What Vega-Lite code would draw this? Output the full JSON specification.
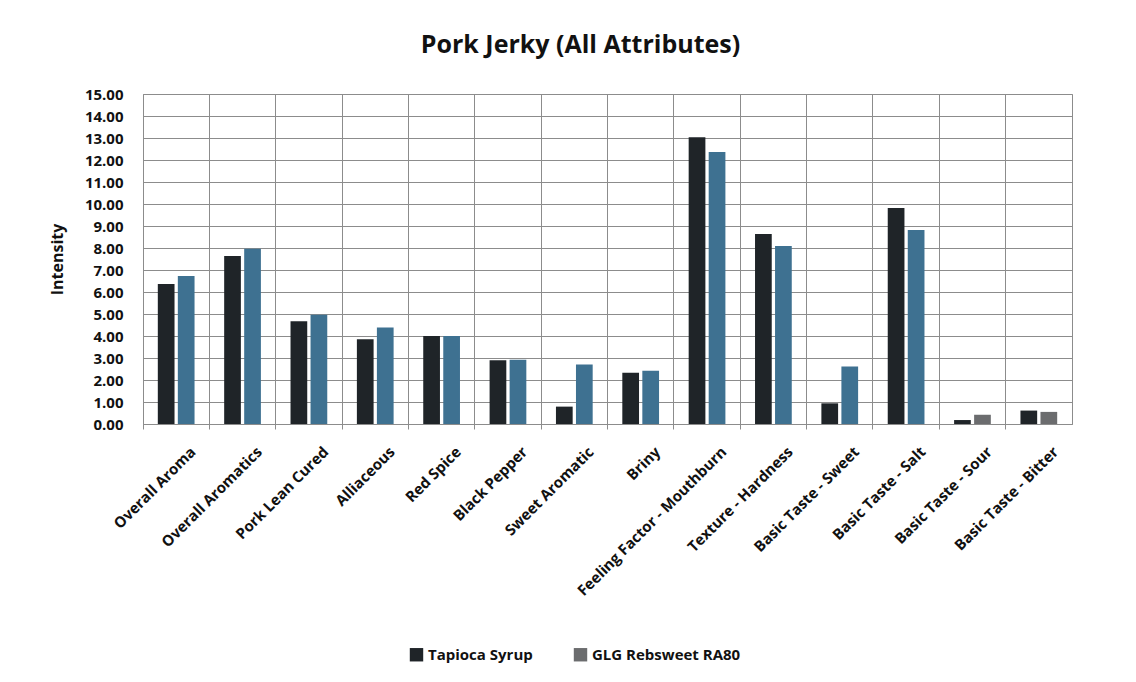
{
  "$schema": "https://vega.github.io/schema/vega-lite/v6.json",
  "autosize": "none",
  "width": 929,
  "height": 330,
  "padding": {"left": 143, "top": 94, "right": 64, "bottom": 258},
  "background": "#ffffff",
  "config": {
    "font": "Open Sans",
    "view": {"stroke": "#8c8c8c", "strokeWidth": 1}
  },
  "title": {
    "text": "Pork Jerky (All Attributes)",
    "font": "Open Sans",
    "fontSize": 25,
    "fontWeight": "bold",
    "color": "#111111",
    "anchor": "middle",
    "dx": -27,
    "offset": 29
  },
  "data": {
    "values": [
      {"attribute": "Overall Aroma", "series": "Tapioca Syrup", "value": 6.36},
      {"attribute": "Overall Aroma", "series": "GLG Rebsweet RA80", "value": 6.73},
      {"attribute": "Overall Aromatics", "series": "Tapioca Syrup", "value": 7.64},
      {"attribute": "Overall Aromatics", "series": "GLG Rebsweet RA80", "value": 7.97},
      {"attribute": "Pork  Lean Cured", "series": "Tapioca Syrup", "value": 4.67},
      {"attribute": "Pork  Lean Cured", "series": "GLG Rebsweet RA80", "value": 4.97},
      {"attribute": "Alliaceous", "series": "Tapioca Syrup", "value": 3.85},
      {"attribute": "Alliaceous", "series": "GLG Rebsweet RA80", "value": 4.39},
      {"attribute": "Red Spice", "series": "Tapioca Syrup", "value": 4.0},
      {"attribute": "Red Spice", "series": "GLG Rebsweet RA80", "value": 4.0},
      {"attribute": "Black Pepper", "series": "Tapioca Syrup", "value": 2.9},
      {"attribute": "Black Pepper", "series": "GLG Rebsweet RA80", "value": 2.92},
      {"attribute": "Sweet Aromatic", "series": "Tapioca Syrup", "value": 0.79},
      {"attribute": "Sweet Aromatic", "series": "GLG Rebsweet RA80", "value": 2.7},
      {"attribute": "Briny", "series": "Tapioca Syrup", "value": 2.33},
      {"attribute": "Briny", "series": "GLG Rebsweet RA80", "value": 2.42},
      {"attribute": "Feeling Factor - Mouthburn", "series": "Tapioca Syrup", "value": 13.03},
      {"attribute": "Feeling Factor - Mouthburn", "series": "GLG Rebsweet RA80", "value": 12.36},
      {"attribute": "Texture - Hardness", "series": "Tapioca Syrup", "value": 8.64},
      {"attribute": "Texture - Hardness", "series": "GLG Rebsweet RA80", "value": 8.09},
      {"attribute": "Basic Taste - Sweet", "series": "Tapioca Syrup", "value": 0.94},
      {"attribute": "Basic Taste - Sweet", "series": "GLG Rebsweet RA80", "value": 2.61},
      {"attribute": "Basic Taste - Salt", "series": "Tapioca Syrup", "value": 9.82},
      {"attribute": "Basic Taste - Salt", "series": "GLG Rebsweet RA80", "value": 8.82},
      {"attribute": "Basic Taste - Sour", "series": "Tapioca Syrup", "value": 0.18},
      {"attribute": "Basic Taste - Sour", "series": "GLG Rebsweet RA80", "value": 0.42},
      {"attribute": "Basic Taste - Bitter", "series": "Tapioca Syrup", "value": 0.61},
      {"attribute": "Basic Taste - Bitter", "series": "GLG Rebsweet RA80", "value": 0.55}
    ]
  },
  "mark": {"type": "bar"},
  "encoding": {
    "x": {
      "field": "attribute",
      "type": "nominal",
      "sort": null,
      "scale": {"paddingInner": 0, "paddingOuter": 0},
      "axis": {
        "title": null,
        "bandPosition": 0,
        "grid": true,
        "gridColor": "#8c8c8c",
        "gridWidth": 1,
        "gridOpacity": 1,
        "domainColor": "#8c8c8c",
        "ticks": true,
        "tickColor": "#8c8c8c",
        "tickSize": 5,
        "labelAngle": -45,
        "labelAlign": "right",
        "labelBaseline": "top",
        "labelPadding": 15,
        "labelOffset": 12,
        "labelLimit": 0,
        "labelFont": "Open Sans",
        "labelFontSize": 15,
        "labelFontWeight": "bold",
        "labelColor": "#111111",
        "labelOverlap": false,
        "labelBound": false
      }
    },
    "xOffset": {
      "field": "series",
      "type": "nominal",
      "sort": ["Tapioca Syrup", "GLG Rebsweet RA80"],
      "scale": {"paddingInner": 0.165, "paddingOuter": 0.74}
    },
    "y": {
      "field": "value",
      "type": "quantitative",
      "scale": {"domain": [0, 15], "nice": false},
      "axis": {
        "title": "Intensity",
        "titleFont": "Open Sans",
        "titleFontSize": 16,
        "titleFontWeight": "bold",
        "titleColor": "#111111",
        "titleAngle": -90,
        "titleX": -86,
        "titleY": 165,
        "titleAlign": "center",
        "titleBaseline": "middle",
        "values": [0, 1, 2, 3, 4, 5, 6, 7, 8, 9, 10, 11, 12, 13, 14, 15],
        "format": ".2f",
        "grid": true,
        "gridColor": "#8c8c8c",
        "gridOpacity": 1,
        "gridWidth": 1,
        "domain": false,
        "ticks": false,
        "labelPadding": 20,
        "labelFont": "Open Sans",
        "labelFontSize": 15,
        "labelFontWeight": "bold",
        "labelColor": "#111111"
      }
    },
    "color": {
      "condition": {
        "test": "datum.series === 'GLG Rebsweet RA80' && indexof(['Basic Taste - Sour', 'Basic Taste - Bitter'], datum.attribute) < 0",
        "value": "#3e7191"
      },
      "field": "series",
      "type": "nominal",
      "sort": ["Tapioca Syrup", "GLG Rebsweet RA80"],
      "scale": {
        "domain": ["Tapioca Syrup", "GLG Rebsweet RA80"],
        "range": ["#1f2428", "#6b6c6e"]
      },
      "legend": {
        "title": null,
        "orient": "none",
        "direction": "horizontal",
        "legendX": 266,
        "legendY": 553,
        "symbolType": "square",
        "symbolSize": 180,
        "symbolOpacity": 1,
        "symbolStrokeWidth": 0,
        "labelFont": "Open Sans",
        "labelFontSize": 15,
        "labelFontWeight": "bold",
        "labelColor": "#111111",
        "columnPadding": 40,
        "labelOffset": 4
      }
    }
  }
}
